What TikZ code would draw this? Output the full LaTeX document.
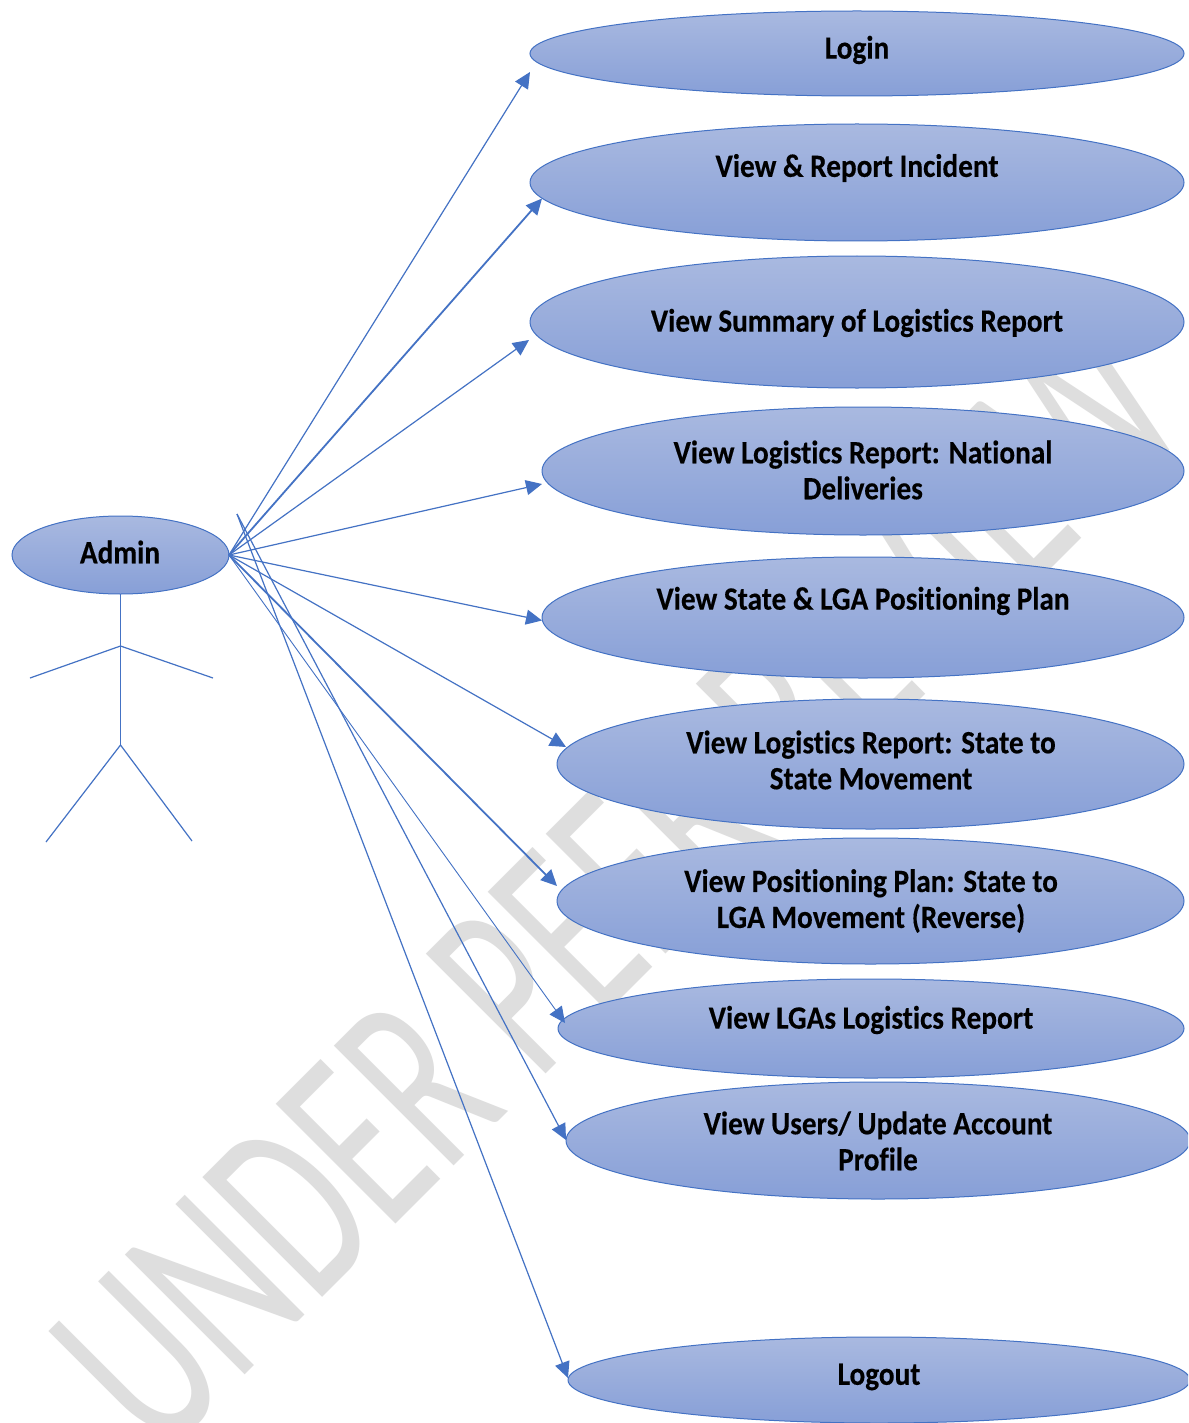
\documentclass[tikz,border=0pt]{standalone}
\usepackage{fontspec}
\setmainfont[Ligatures=NoCommon]{Carlito}
\newfontfamily\lblfont[UprightFont={* Bold},Ligatures=NoCommon,FakeStretch=0.9,FakeBold=0.3]{Carlito}
\newfontfamily\wmfont[FakeStretch=0.64]{Carlito}
\usetikzlibrary{shapes.geometric,arrows.meta}
\definecolor{ln}{HTML}{4472C4}
\definecolor{gTop}{HTML}{A9B9E0}
\definecolor{gBot}{HTML}{879FD7}
\definecolor{wmk}{HTML}{DEDEDE}
\tikzset{
  uc/.style={ellipse,draw=ln,line width=1pt,top color=gTop,bottom color=gBot,inner sep=0pt,outer sep=0pt},
  lbl/.style={font=\lblfont\fontsize{32.5}{36}\selectfont,align=center,text=black,inner sep=0pt},
  conn/.style={draw=ln,line width=1.2pt,-{Triangle[length=16pt,width=15pt]}},
  conn2/.style={conn,line width=1.8pt},
  conn3/.style={conn,line width=0.9pt},
  limb/.style={draw=ln,line width=1.2pt},
  wm/.style={font=\wmfont\fontsize{264}{264}\selectfont,text=wmk,anchor=base west,rotate=45,inner sep=0pt}
}
\newcommand{\uce}[5]{\node[uc,minimum width=#4pt,minimum height=#5pt] (#1) at (#2,#3) {};}
\begin{document}
\begin{tikzpicture}[x=1pt,y=-1pt]
\clip (0,0) rectangle (1188,1423);
\fill[white] (0,0) rectangle (1188,1423);
\node[wm] (watermark) at (160,1460) {UNDER PEER REVIEW};
\uce{login}{857}{53.5}{654}{85}
\uce{report}{857}{182.5}{654}{117}
\uce{summary}{857}{322}{654}{132}
\uce{national}{863}{471}{642}{128}
\uce{state}{863}{617.5}{642}{121}
\uce{movement}{870.5}{764}{627}{130}
\uce{plan}{870.5}{901}{627}{126}
\uce{lgas}{871}{1028.5}{626}{99}
\uce{users}{878}{1140.5}{624}{117}
\uce{logout}{879}{1380}{622}{86}
\uce{admin}{120.5}{555}{217}{78}
\node[lbl] (tLogin) at (857,50) {Login};
\node[lbl] (tReport) at (857,168) {View \& Report Incident};
\node[lbl] (tSummary) at (857,323) {View Summary of Logistics Report};
\node[lbl] (tNational) at (863,470) {View Logistics Report: National\\Deliveries};
\node[lbl] (tState) at (863,601) {View State \& LGA Positioning Plan};
\node[lbl] (tMovement) at (871,760) {View Logistics Report: State to\\State Movement};
\node[lbl] (tPlan) at (871,901) {View Positioning Plan: State to\\LGA Movement (Reverse)};
\node[lbl] (tLgas) at (871,1020) {View LGAs Logistics Report};
\node[lbl] (tUsers) at (878,1141) {View Users/ Update Account\\Profile};
\node[lbl] (tLogout) at (879,1377) {Logout};
\node[lbl] (tAdmin) at (120,552) {Admin};
% stick figure
\coordinate (neck) at (120.5,646);
\coordinate (hip) at (120.5,745);
\coordinate (handL) at (30,678);
\coordinate (handR) at (213,678);
\coordinate (footL) at (46,842);
\coordinate (footR) at (192,841);
\draw[limb] (admin.south) -- (hip);
\draw[limb] (handL) -- (neck) -- (handR);
\draw[limb] (footL) -- (hip) -- (footR);
% connectors
\coordinate (src) at (237,514);
\draw[conn] (admin.east) -- ([shift={(0pt,-18.5pt)}]login.west);
\draw[conn2] (admin.east) -- ([shift={(12pt,-16pt)}]report.west);
\draw[conn] (admin.east) -- ([shift={(-1pt,-18pt)}]summary.west);
\draw[conn] (admin.east) -- ([shift={(0pt,-13pt)}]national.west);
\draw[conn] (admin.east) -- ([shift={(0pt,-3pt)}]state.west);
\draw[conn] (admin.east) -- ([shift={(9pt,17pt)}]movement.west);
\draw[conn2] (admin.east) -- ([shift={(0pt,15pt)}]plan.west);
\draw[conn3] (admin.east) -- ([shift={(7pt,5.5pt)}]lgas.west);
\draw[conn] (src) -- ([shift={(0pt,0.5pt)}]users.west);
\draw[conn] (src) -- ([shift={(0pt,2pt)}]logout.west);
\end{tikzpicture}
\end{document}
